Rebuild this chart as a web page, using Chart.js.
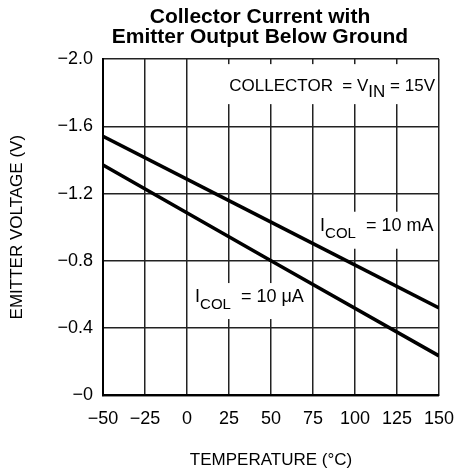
<!DOCTYPE html>
<html>
<head>
<meta charset="utf-8">
<script src="https://cdn.jsdelivr.net/npm/chart.js@4/dist/chart.umd.min.js"></script>
<style>
  html, body { margin: 0; padding: 0; background: #fff; }
  #wrap { width: 461px; height: 471px; }
</style>
</head>
<body>
<div id="wrap"><canvas id="chart"></canvas></div>
<script>
// Temperature (°C) and emitter voltage (V)
const temps = [-50, 50, 150];
const vCol10mA = [-1.54, -1.03, -0.52];
const vCol10uA = [-1.37, -0.80, -0.235];

const xTicks = [-50, -25, 0, 25, 50, 75, 100, 125, 150];
const yTicks = [-2.0, -1.6, -1.2, -0.8, -0.4, 0];

const titleLines = ['Collector Current with', 'Emitter Output Below Ground'];

const FAM = 'Liberation Sans, Arial, sans-serif';
const tickFont = { family: FAM, size: 18 };
const axisTitleFont = { family: FAM, size: 17, lineHeight: 1 };

// Labels on the plot: [text, isSubscript]; white box behind breaks the grid
const notes = [
    { x: 147.6, y: -1.809, align: 'right', size: 17, sub: 17, drop: 6, box: [27, 13],
      parts: [['COLLECTOR  = V', 0], ['IN', 1], [' = 15V', 0]] },
    { x: 79.2, y: -0.979, align: 'left', size: 18, sub: 15, drop: 7, box: [19, 18],
      parts: [['I', 0], ['COL', 1], ['  = 10 mA', 0]] },
    { x: 4.8, y: -0.555, align: 'left', size: 18, sub: 15, drop: 7, box: [19, 17],
      parts: [['I', 0], ['COL', 1], ['  = 10 \u03BCA', 0]] }
];

const notePlugin = {
    id: 'notes',
    beforeDatasetsDraw(chart) {
        const { ctx, scales } = chart;
        ctx.save();
        ctx.textBaseline = 'alphabetic';
        notes.forEach(n => {
            const px = scales.x.getPixelForValue(n.x);
            const py = scales.y.getPixelForValue(n.y);
            let w = 0;
            n.parts.forEach(([t, sub]) => {
                ctx.font = (sub ? n.sub : n.size) + 'px ' + FAM;
                w += ctx.measureText(t).width;
            });
            let x = n.align === 'right' ? px - w : px;
            ctx.fillStyle = '#fff';
            ctx.fillRect(x - 3, py - n.box[0], w + 6, n.box[0] + n.box[1]);
            ctx.fillStyle = '#000';
            n.parts.forEach(([t, sub]) => {
                ctx.font = (sub ? n.sub : n.size) + 'px ' + FAM;
                ctx.fillText(t, x, sub ? py + n.drop : py);
                x += ctx.measureText(t).width;
            });
        });
        ctx.restore();
    },
    afterDraw(chart) {
        // two-line bold title, centred a little right of the canvas middle like the source
        const { ctx } = chart;
        ctx.save();
        ctx.font = 'bold 21px ' + FAM;
        ctx.fillStyle = '#000';
        ctx.textAlign = 'center';
        ctx.textBaseline = 'middle';
        titleLines.forEach((t, i) => ctx.fillText(t, 260, 17.5 + i * 20));
        ctx.restore();
    }
};

const lineStyle = {
    borderColor: '#000',
    borderWidth: 3.5,
    pointRadius: 0,
    fill: false,
    tension: 0
};

const minus = (v) => v < 0 ? '\u2212' + Math.abs(v) : String(v);

new Chart(document.getElementById('chart'), {
    type: 'line',
    data: {
        datasets: [
            { label: 'ICOL = 10 mA', data: temps.map((t, i) => ({ x: t, y: vCol10mA[i] })), ...lineStyle },
            { label: 'ICOL = 10 µA', data: temps.map((t, i) => ({ x: t, y: vCol10uA[i] })), ...lineStyle }
        ]
    },
    options: {
        responsive: true,
        maintainAspectRatio: false,
        animation: false,
        layout: { padding: { left: 8.5, right: 22, top: 59, bottom: 0 } },
        plugins: {
            legend: { display: false },
            tooltip: { enabled: false },
            title: { display: false }
        },
        scales: {
            x: {
                type: 'linear',
                min: -50,
                max: 150,
                afterBuildTicks: (axis) => { axis.ticks = xTicks.map(v => ({ value: v })); },
                afterFit: (axis) => { axis.paddingLeft = 0; axis.paddingRight = 0; },
                ticks: { color: '#000', font: tickFont, padding: 13, maxRotation: 0, callback: minus },
                grid: { color: '#222', lineWidth: 1.5, drawTicks: false },
                border: { color: '#000', width: 2 },
                title: {
                    display: true,
                    text: 'TEMPERATURE (°C)',
                    color: '#000',
                    font: axisTitleFont,
                    padding: { top: 9, bottom: 2 }
                }
            },
            y: {
                type: 'linear',
                min: -2,
                max: 0,
                reverse: true,
                afterBuildTicks: (axis) => { axis.ticks = yTicks.map(v => ({ value: v })); },
                ticks: {
                    color: '#000',
                    font: tickFont,
                    padding: 10,
                    callback: (v) => v === 0 ? '\u22120' : '\u2212' + Math.abs(v).toFixed(1)
                },
                grid: { color: '#222', lineWidth: 1.5, drawTicks: false },
                border: { color: '#000', width: 2 },
                title: {
                    display: true,
                    text: 'EMITTER VOLTAGE (V)',
                    color: '#000',
                    font: axisTitleFont,
                    padding: { top: 0, bottom: 22 }
                }
            }
        }
    },
    plugins: [notePlugin]
});
</script>
</body>
</html>
